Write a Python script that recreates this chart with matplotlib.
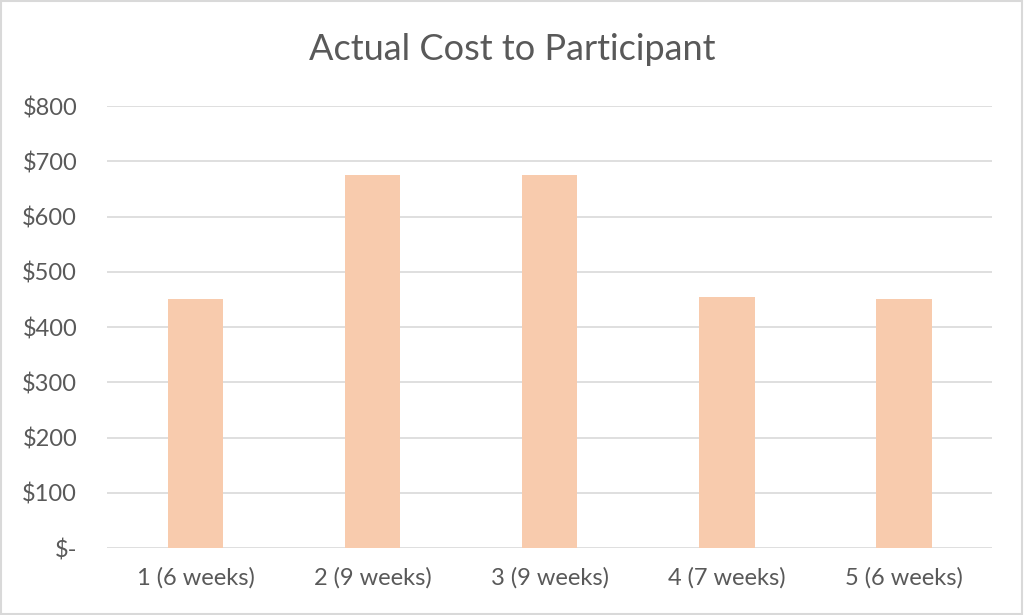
import matplotlib
matplotlib.use('Agg')
import matplotlib.pyplot as plt
from matplotlib.patches import Rectangle

# data
categories = ['1 (6 weeks)', '2 (9 weeks)', '3 (9 weeks)', '4 (7 weeks)', '5 (6 weeks)']
costs = [450, 675, 675, 455, 450]
yticks = [0, 100, 200, 300, 400, 500, 600, 700, 800]
ytick_labels = ['$-', '$100', '$200', '$300', '$400', '$500', '$600', '$700', '$800']

plt.rcParams['font.family'] = ['Lato', 'DejaVu Sans']
text_color = '#595959'

fig = plt.figure(figsize=(10.24, 6.15), dpi=100)
ax = fig.add_axes([0.1045, 0.1089, 0.8643, 0.7187])

x = range(len(categories))
ax.bar(x, costs, width=0.316, color='#F8CBAD', zorder=2)

ax.set_xlim(-0.5, len(categories) - 0.5)
ax.set_ylim(0, 800)
ax.set_yticks(yticks)
ax.set_yticklabels(ytick_labels)
ax.set_xticks(list(x))
ax.set_xticklabels(categories)

ax.grid(axis='y', color='#d9d9d9', linewidth=1.2, zorder=0)
for s in ax.spines.values():
    s.set_visible(False)
ax.tick_params(axis='both', length=0, labelsize=17, colors=text_color)
ax.tick_params(axis='y', pad=21.5)
ax.tick_params(axis='x', pad=14)
for lbl in ax.get_yticklabels():
    lbl.set_horizontalalignment('right')

fig.text(0.5, 0.92, 'Actual Cost to Participant', ha='center', va='center',
         fontsize=26, color=text_color)

# light frame around the chart
fig.patches.append(Rectangle((0.001, 0.002), 0.997, 0.996, transform=fig.transFigure,
                             fill=False, edgecolor='#d9d9d9', linewidth=1.5))

fig.savefig('out.png', dpi=100)
